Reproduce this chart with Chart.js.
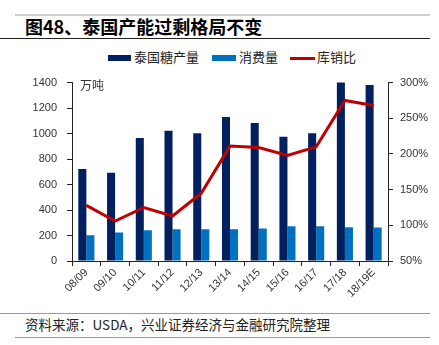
<!DOCTYPE html>
<html><head><meta charset="utf-8">
<script src="https://cdn.jsdelivr.net/npm/chart.js@4.4.0/dist/chart.umd.min.js"></script>
<style>
html,body{margin:0;padding:0;background:#fff;width:439px;height:345px;overflow:hidden;position:relative;font-family:"Noto Sans CJK SC","Liberation Sans",sans-serif;}
.abs{position:absolute;white-space:nowrap;}
#wrap{position:absolute;left:0;top:66px;width:439px;height:240px;}
</style></head>
<body>
<div class="abs" style="left:15px;top:14px;width:415px;height:2px;background:#cfcfcf"></div>
<div class="abs" style="left:25px;top:14px;font-size:18px;font-weight:bold;color:#000;line-height:24px">图48、泰国产能过剩格局不变</div>
<div class="abs" style="left:0;top:38px;width:430px;height:1px;background:#222"></div>

<div class="abs" style="left:108px;top:55px;width:23px;height:6px;background:#00205F"></div>
<div class="abs" style="left:134px;top:48px;font-size:13px;line-height:18px;color:#222">泰国糖产量</div>
<div class="abs" style="left:212px;top:55px;width:24px;height:6px;background:#0070C0"></div>
<div class="abs" style="left:239px;top:48px;font-size:13px;line-height:18px;color:#222">消费量</div>
<div class="abs" style="left:290px;top:57px;width:25px;height:3px;background:#C00000"></div>
<div class="abs" style="left:317px;top:48px;font-size:13px;line-height:18px;color:#222">库销比</div>

<div id="wrap"><canvas id="c"></canvas></div>
<div class="abs" style="left:80px;top:77px;font-size:12px;line-height:16px;color:#333">万吨</div>

<div class="abs" style="left:0;top:313px;width:430px;height:1px;background:#999"></div>
<div class="abs" style="left:25px;top:315px;font-size:13.5px;line-height:18px;color:#222">资料来源：USDA，兴业证券经济与金融研究院整理</div>
<div class="abs" style="left:15px;top:337px;width:415px;height:1px;background:#999"></div>

<script>
const categories = ["08/09","09/10","10/11","11/12","12/13","13/14","14/15","15/16","16/17","17/18","18/19E"];
const production = [722, 692, 966, 1022, 1003, 1131, 1082, 976, 1002, 1405, 1382];
const consumption = [202, 223, 241, 250, 250, 250, 256, 272, 272, 265, 262];
const stockRatio = [128, 106, 125, 113, 145, 211, 209, 198, 210, 275, 268];
const leftTicks = [0, 200, 400, 600, 800, 1000, 1200, 1400];
const rightTicks = [50, 100, 150, 200, 250, 300];

const tickFont = {family: "'Liberation Sans', Arial, sans-serif", size: 11};
new Chart(document.getElementById('c'), {
  data: {
    labels: categories,
    datasets: [
      {type:'line', label:'库销比', data: stockRatio, yAxisID:'y1', borderColor:'#C00000', borderWidth:3, pointRadius:0, tension:0, order:0},
      {type:'bar', label:'泰国糖产量', data: production, yAxisID:'y', backgroundColor:'#00205F', categoryPercentage:0.56, barPercentage:1.0, order:1},
      {type:'bar', label:'消费量', data: consumption, yAxisID:'y', backgroundColor:'#0070C0', categoryPercentage:0.56, barPercentage:1.0, order:1}
    ]
  },
  options: {
    responsive:true, maintainAspectRatio:false, animation:false,
    layout:{padding:{left:0,right:0,top:9,bottom:0}},
    plugins:{legend:{display:false}, tooltip:{enabled:false}},
    scales:{
      x:{
        grid:{display:true, drawOnChartArea:false, drawTicks:true, tickLength:5, color:'#222', offset:true},
        border:{color:'#222', width:1},
        ticks:{color:'#333', font:tickFont, maxRotation:45, minRotation:45, padding:0, autoSkip:false},
        afterFit:(s)=>{s.height = 45;}
      },
      y:{
        position:'left', min:0, max:1400,
        afterBuildTicks:(s)=>{s.ticks = leftTicks.map(v=>({value:v}));},
        grid:{display:true, drawOnChartArea:false, drawTicks:true, tickLength:5, color:'#222'},
        border:{color:'#222', width:1},
        ticks:{color:'#333', font:tickFont, padding:10, callback:(v)=>String(v)},
        afterFit:(s)=>{s.width = 72;}
      },
      y1:{
        position:'right', min:50, max:300,
        afterBuildTicks:(s)=>{s.ticks = rightTicks.map(v=>({value:v}));},
        grid:{display:true, drawOnChartArea:false, drawTicks:true, tickLength:5, color:'#222'},
        border:{color:'#222', width:1},
        ticks:{color:'#333', font:tickFont, padding:7, callback:(v)=>v+'%'},
        afterFit:(s)=>{s.width = 51;}
      }
    }
  }
});
</script>
</body></html>
